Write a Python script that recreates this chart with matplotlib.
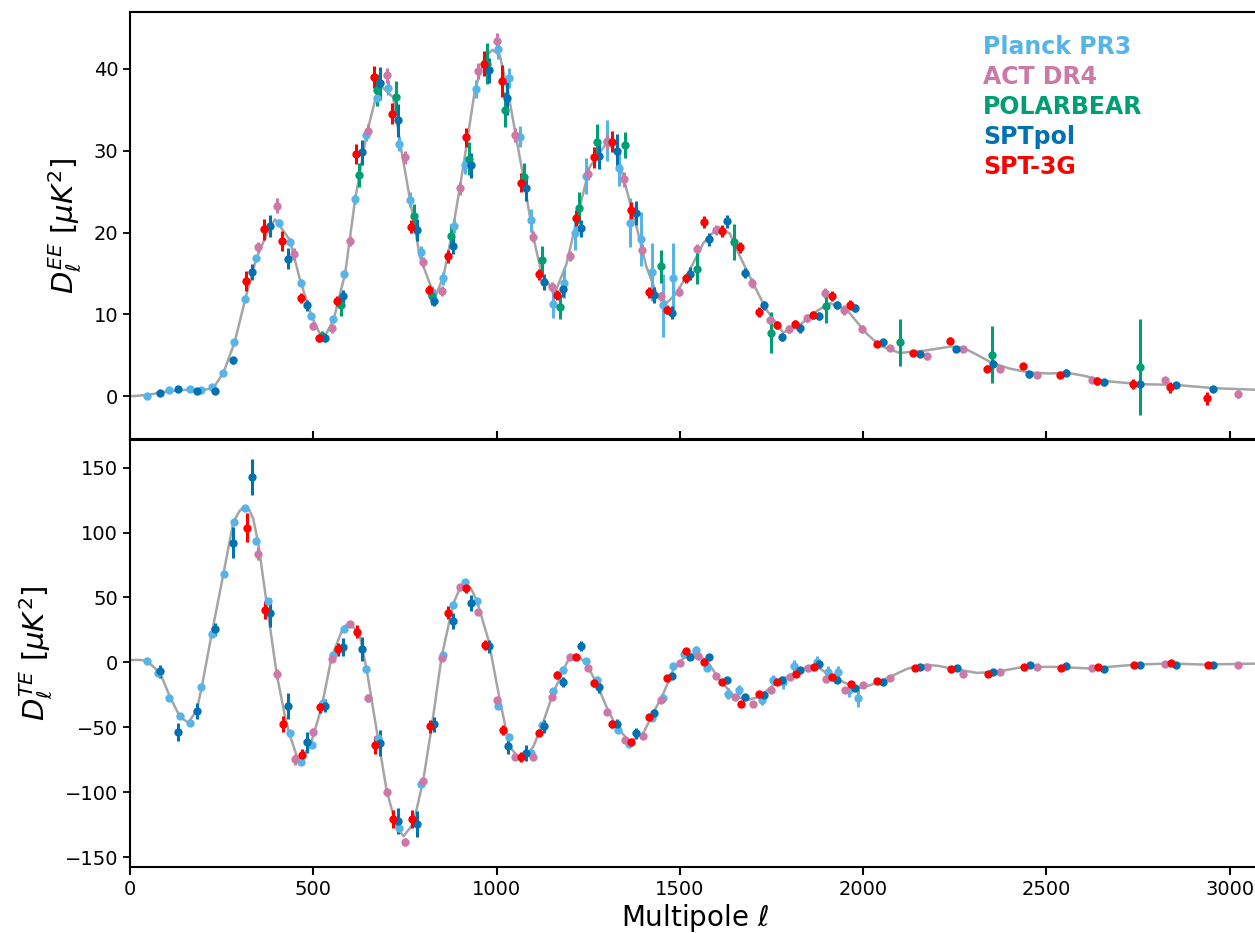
import matplotlib
matplotlib.use("Agg")
import matplotlib.pyplot as plt

# colours of the five experiments
c_planck = "#56B4E9"
c_act = "#CC79A7"
c_pb = "#009E73"
c_sptpol = "#0072B2"
c_spt3g = "#FF0000"
c_theory = "#A5A5A5"

# ---------------- EE ----------------
ee_theory_ell = [0, 50, 100, 150, 200, 227, 255, 286, 314, 345, 382, 396, 436, 464, 496, 526, 555, 587, 614,
                 646, 673, 687, 718, 737, 764, 791, 832, 855, 882, 909, 941, 968, 989, 1009, 1032, 1050, 1073,
                 1100, 1123, 1159, 1191, 1227, 1254, 1300, 1327, 1355, 1382, 1409, 1436, 1464, 1491, 1527,
                 1564, 1605, 1636, 1664, 1700, 1736, 1782, 1827, 1873, 1909, 1955, 2009, 2046, 2100, 2170,
                 2241, 2275, 2310, 2351, 2400, 2455, 2510, 2555, 2605, 2655, 2755, 2855, 2960, 3083]
ee_theory = [0, 0.2, 0.6, 0.8, 0.8, 1.0, 2.9, 6.7, 11.8, 16.9, 20.7, 21.6, 19.1, 14.2, 9.7, 6.9, 9.3, 15.0, 24.0,
             32.1, 36.9, 37.8, 36.5, 30.9, 24.0, 17.0, 12.1, 14.6, 20.7, 28.0, 37.4, 41.4, 42.3, 41.6, 37.0,
             32.5, 26.8, 19.5, 15.0, 12.6, 16.2, 23.1, 28.0, 30.9, 30.0, 25.2, 20.7, 15.8, 12.6, 11.4, 12.6,
             15.4, 18.7, 20.7, 19.9, 17.1, 13.8, 10.6, 7.8, 8.7, 10.4, 11.4, 10.6, 7.7, 6.2, 5.3, 5.6, 6.1,
             5.9, 5.1, 4.1, 3.4, 2.9, 2.8, 2.9, 2.5, 1.9, 1.5, 1.4, 1.0, 0.8]

ee_planck_ell = [45, 105, 164, 195, 223, 255, 285, 314, 345, 406, 436, 466, 494, 553, 585, 615, 644, 675, 703,
                 735, 764, 794, 823, 853, 884, 914, 944, 1003, 1034, 1064, 1093, 1153, 1184, 1214, 1244, 1302,
                 1334, 1364, 1394, 1425, 1453, 1482]
ee_planck = [0.1, 0.8, 0.9, 0.8, 1.1, 2.9, 6.6, 11.9, 16.9, 21.2, 18.9, 13.9, 9.8, 9.4, 14.9, 24.1, 31.9, 36.4,
             37.7, 30.8, 24.0, 17.6, 12.7, 14.4, 20.8, 28.2, 37.5, 42.4, 38.9, 31.7, 21.5, 11.3, 13.8, 19.9,
             26.9, 31.2, 27.9, 21.2, 19.2, 15.2, 11.1, 14.4]
ee_planck_err = [0.15, 0.15, 0.15, 0.15, 0.15, 0.2, 0.25, 0.3, 0.35, 0.4, 0.4, 0.4, 0.4, 0.4, 0.5, 0.6, 0.7, 0.8,
                 0.9, 0.9, 0.9, 0.8, 0.8, 0.8, 0.9, 1.0, 1.1, 1.2, 1.2, 1.3, 1.4, 1.7, 1.8, 2.0, 2.2, 2.5, 2.2,
                 3.0, 3.3, 3.5, 3.9, 4.3]

ee_act_ell = [350, 400, 448, 500, 550, 600, 650, 700, 750, 800, 850, 900, 950, 1000, 1050, 1100, 1150, 1200,
              1250, 1300, 1348, 1398, 1448, 1497, 1547, 1598, 1697, 1747, 1797, 1847, 1897, 1947, 1997, 2074,
              2174, 2274, 2374, 2474, 2624, 2824, 3024]
ee_act = [18.2, 23.3, 17.4, 8.6, 8.3, 19.0, 32.4, 39.2, 29.2, 16.4, 12.9, 25.4, 39.7, 43.4, 31.9, 19.5, 13.4,
          17.1, 27.2, 31.1, 26.5, 17.9, 12.2, 12.8, 18.0, 20.3, 13.8, 9.3, 8.2, 9.6, 12.6, 10.5, 8.2, 5.9, 4.9,
          5.8, 3.4, 2.6, 2.0, 2.0, 0.3]
ee_act_err = [0.6, 0.9, 0.7, 0.5, 0.5, 0.6, 0.8, 0.9, 0.8, 0.6, 0.6, 0.8, 1.0, 1.0, 0.9, 0.7, 0.6, 0.6, 0.8,
              0.9, 0.9, 0.7, 0.6, 0.5, 0.6, 0.6, 0.6, 0.5, 0.5, 0.5, 0.6, 0.6, 0.5, 0.4, 0.4, 0.4, 0.4, 0.4,
              0.4, 0.4, 0.5]

ee_pb_ell = [525, 575, 625, 675, 725, 775, 825, 875, 925, 975, 1024, 1074, 1124, 1174, 1224, 1274, 1350, 1450,
             1548, 1648, 1748, 1898, 2101, 2351, 2756]
ee_pb = [7.4, 11.1, 27.0, 37.4, 36.5, 22.0, 12.2, 19.6, 29.0, 40.6, 35.0, 26.8, 16.7, 10.9, 23.0, 31.1, 30.7,
         15.9, 15.6, 18.9, 7.8, 11.0, 6.6, 5.1, 3.6]
ee_pb_err = [0.6, 1.3, 1.5, 2.0, 2.0, 1.5, 1.0, 1.5, 2.0, 2.5, 2.1, 1.7, 1.6, 1.5, 1.9, 2.1, 1.6, 2.0, 1.9, 2.2,
             2.5, 2.0, 2.9, 3.5, 5.9]

ee_sptpol_ell = [82, 132, 182, 232, 282, 332, 382, 432, 482, 532, 582, 632, 682, 732, 782, 830, 880, 930, 980,
                 1029, 1079, 1130, 1180, 1230, 1280, 1330, 1380, 1430, 1479, 1529, 1579, 1629, 1679, 1729, 1779,
                 1829, 1879, 1929, 1979, 2055, 2155, 2254, 2354, 2454, 2555, 2656, 2756, 2854, 2954]
ee_sptpol = [0.4, 0.9, 0.7, 0.7, 4.4, 15.2, 20.8, 16.8, 11.1, 7.1, 12.2, 29.8, 38.2, 33.7, 20.3, 11.6, 18.4,
             28.2, 39.8, 36.4, 25.4, 14.0, 13.1, 20.5, 29.3, 30.0, 22.4, 12.4, 10.2, 15.0, 19.2, 21.4, 15.1,
             11.1, 7.3, 8.3, 9.8, 11.2, 10.8, 6.6, 5.2, 5.8, 4.0, 2.7, 2.9, 1.7, 1.5, 1.4, 0.9]
ee_sptpol_err = [0.2, 0.2, 0.2, 0.2, 0.4, 1.0, 1.3, 1.3, 0.7, 0.5, 0.8, 1.5, 2.0, 2.0, 1.3, 0.6, 1.0, 1.5, 1.5,
                 2.0, 1.5, 1.0, 1.0, 1.0, 1.5, 2.0, 1.5, 1.0, 0.8, 0.8, 0.8, 0.8, 0.6, 0.6, 0.5, 0.5, 0.5, 0.5,
                 0.5, 0.4, 0.4, 0.4, 0.4, 0.4, 0.4, 0.4, 0.4, 0.4, 0.4]

ee_spt3g_ell = [316, 366, 416, 466, 516, 566, 616, 666, 716, 767, 817, 867, 917, 967, 1016, 1066, 1116, 1166,
                1216, 1266, 1316, 1366, 1416, 1466, 1516, 1566, 1616, 1664, 1716, 1764, 1814, 1864, 1914, 1964,
                2039, 2137, 2237, 2337, 2437, 2537, 2637, 2737, 2837, 2937]
ee_spt3g = [14.1, 20.4, 19.0, 12.0, 7.1, 11.6, 29.6, 39.0, 34.5, 20.7, 13.0, 17.1, 31.6, 40.6, 38.5, 26.1, 14.9,
            12.4, 21.8, 29.2, 31.1, 22.7, 12.7, 10.6, 14.4, 21.3, 20.2, 18.2, 10.3, 8.7, 8.8, 9.9, 12.3, 11.2,
            6.4, 5.3, 6.8, 3.4, 3.7, 2.6, 1.9, 1.5, 1.1, -0.2]
ee_spt3g_err = [1.2, 1.3, 1.2, 0.6, 0.4, 0.6, 1.2, 1.3, 1.3, 0.8, 0.6, 0.8, 1.2, 1.5, 2.0, 1.2, 0.7, 0.6, 1.0,
                1.3, 1.3, 1.0, 0.7, 0.5, 0.5, 0.7, 0.7, 0.7, 0.6, 0.5, 0.5, 0.5, 0.6, 0.6, 0.4, 0.4, 0.4, 0.4,
                0.4, 0.4, 0.5, 0.6, 0.7, 0.8]

# ---------------- TE ----------------
te_theory_ell = [0, 20, 45, 82, 109, 136, 159, 182, 195, 223, 255, 282, 300, 312, 325, 336, 350, 373, 400, 423,
                 436, 459, 491, 523, 550, 582, 596, 612, 627, 646, 673, 700, 727, 746, 773, 800, 823, 850, 882,
                 900, 914, 930, 946, 978, 1009, 1036, 1059, 1077, 1100, 1123, 1154, 1182, 1200, 1218, 1245,
                 1273, 1300, 1327, 1364, 1400, 1427, 1455, 1482, 1509, 1536, 1573, 1609, 1646, 1682, 1718,
                 1755, 1800, 1846, 1868, 1909, 1955, 1982, 2019, 2074, 2119, 2150, 2174, 2205, 2237, 2310, 2365,
                 2437, 2519, 2619, 2746, 2837, 2928, 3083]
te_theory = [1.8, 2.0, 1.5, -8, -26.4, -41.8, -46.4, -36.7, -20, 22.3, 68.4, 108.2, 117, 119.8, 117.5, 110.8,
             91.5, 45.3, -8.7, -41.8, -56, -75.2, -64.9, -34.2, 4.2, 27.2, 29.8, 26.5, 20.8, -6.1, -52.2,
             -98.3, -126.5, -133.7, -124, -90.6, -49.6, 4.2, 45.3, 57, 60.7, 57, 47.9, 17.2, -29, -64.9,
             -72.6, -72.6, -64.9, -49.5, -23.9, -5.9, 4.4, 6.1, -0.8, -16.2, -34.1, -49.5, -61.0, -54.6,
             -39.2, -23.9, -5.9, 3.1, 6.9, 1.8, -13.6, -25.1, -29.0, -26.4, -17.4, -9.7, -3.3, -2.0, -9.7,
             -16.2, -20.0, -17.5, -11.0, -5.0, -2.6, -1.8, -2.6, -4.4, -8.0, -7.2, -3.4, -3.4, -4.6, -1.6, -0.8,
             -1.6, -0.8]

te_planck_ell = [47, 77, 106, 136, 165, 194, 225, 256, 285, 315, 345, 376, 436, 466, 496, 526, 555, 585, 645,
                 676, 735, 793, 853, 882, 914, 946, 1003, 1034, 1095, 1123, 1153, 1182, 1244, 1273, 1332, 1362,
                 1423, 1453, 1482, 1512, 1543, 1573, 1632, 1662, 1723, 1753, 1782, 1812, 1873, 1903, 1932,
                 1962, 1986]
te_planck = [0.9, -7.9, -27.4, -41.3, -46.4, -19.2, 21.8, 68.4, 108.2, 119.2, 93.3, 47.4, -54.6, -76.5, -63.6,
             -31.0, 5.6, 26.0, -5.0, -57.9, -127.2, -93.6, 5.6, 44.0, 61.8, 47.1, -33.6, -57.2, -69.5, -48.2,
             -22, -5.9, 1.0, -13.6, -51.6, -62.9, -43.1, -27, -2.6, 6.4, 9.5, -3.9, -23.9, -21.3, -29, -13.3,
             -15.1, -3.0, 0.3, -7.4, -7.4, -21.3, -27.2]
te_planck_err = [1, 1, 1, 1, 1, 1, 1, 1.5, 1.5, 1.5, 1.5, 1.5, 1.5, 1.5, 1.5, 1.5, 1.5, 1.5, 1.5, 1.5, 2, 2, 2,
                 2, 2, 2, 2, 2, 2, 2, 2, 2, 2, 2, 2, 2, 2, 2, 2.5, 2.5, 3, 3, 4, 4, 4, 4, 5, 5, 5, 5, 5, 5, 7]

te_act_ell = [350, 400, 450, 500, 550, 600, 650, 700, 750, 800, 850, 900, 950, 1000, 1050, 1100, 1150, 1200,
              1250, 1300, 1350, 1400, 1450, 1500, 1550, 1600, 1650, 1700, 1750, 1800, 1850, 1900, 1950, 2000,
              2074, 2174, 2274, 2374, 2474, 2624, 2824, 3024]
te_act = [83.5, -8.7, -74.6, -53.3, 2.6, 29.8, -27.4, -99.6, -138.1, -91.1, 3.3, 58.4, 38.7, -29, -72.6, -72.6,
          -26.4, 4.4, -3.9, -38.0, -59.7, -56.7, -28.5, -0.2, 5.1, -10.5, -26.9, -31.6, -21.3, -11, -3.9,
          -12.4, -20.8, -17.4, -11.6, -3.4, -8.5, -7.7, -3.4, -4.1, -0.8, -2.1]
te_act_err = [5, 4, 4, 3, 2, 2, 3, 3, 3, 2, 2, 2, 2, 2, 2, 2, 2, 2, 1.5, 1.5, 1.5, 1.5, 1.5, 1.5, 1.5, 1.5, 1.5,
              1.5, 1.5, 1.5, 1.5, 1.5, 1.5, 1.5, 1, 1, 1, 1, 1, 1, 1, 1]

te_sptpol_ell = [82, 132, 182, 232, 282, 332, 382, 432, 482, 532, 582, 632, 682, 732, 782, 830, 880, 930, 980,
                 1030, 1080, 1130, 1180, 1230, 1280, 1330, 1380, 1430, 1480, 1529, 1579, 1629, 1679, 1729, 1779,
                 1829, 1879, 1929, 1979, 2055, 2155, 2255, 2355, 2455, 2555, 2656, 2756, 2854, 2954]
te_sptpol = [-6.7, -53.3, -37.2, 25.4, 92.3, 142.8, 38.3, -33.3, -61.5, -33.3, 11.6, 10.3, -61.8, -122.0,
             -124.3, -47.6, 31.8, 45.9, 12.6, -64.1, -69.5, -49.0, -14.9, 12.5, -19.2, -47.4, -54.6, -38.7,
             -10.5, 4.4, 4.4, -13.1, -26.4, -25.1, -13.1, -5.9, -0.8, -13.6, -19.5, -15.4, -3.4, -4.6, -7.2,
             -1.6, -2.9, -4.9, -1.6, -1.8, -2.1]
te_sptpol_err = [5, 7, 6, 5, 12, 14, 11, 10, 8, 5, 7, 9, 10, 10, 10, 6, 6, 6, 5, 6, 6, 5, 4, 4, 4, 4, 4, 3, 2,
                 2, 2, 2, 2, 2, 1.5, 1.5, 2, 2, 1.5, 1, 1, 1, 1, 1, 1, 1, 1, 1, 1]

te_spt3g_ell = [318, 368, 418, 468, 518, 568, 618, 668, 718, 768, 818, 868, 918, 968, 1017, 1066, 1116, 1166,
                1216, 1266, 1316, 1366, 1416, 1466, 1516, 1566, 1616, 1666, 1716, 1766, 1816, 1866, 1916, 1966,
                2039, 2142, 2240, 2340, 2440, 2540, 2640, 2740, 2840, 2940]
te_spt3g = [103.7, 40.2, -47.4, -71.3, -34.6, 10.0, 23.6, -63.6, -120.7, -120.7, -49.0, 38.2, 57.1, 13.4, -52.1,
            -72.6, -53.9, -9.8, 4.4, -15.7, -47.4, -61.5, -41.8, -11.8, 9.0, 0, -14.9, -32.3, -24.6, -15.4,
            -9.2, -3.3, -11, -16.2, -14.1, -4.6, -5.4, -9.0, -3.4, -3.9, -3.4, -2.1, -0.3, -2.1]
te_spt3g_err = [11, 7, 6, 5, 4, 5, 5, 7, 7, 7, 5, 5, 4, 4, 4, 4, 3, 3, 2, 3, 3, 2, 2, 2, 2, 2, 2, 2, 2, 2, 2, 2,
                2, 2, 1.5, 1.5, 1.5, 1.5, 1.5, 1.5, 1.5, 1.5, 1.5, 1.5]

names = ["Planck PR3", "ACT DR4", "POLARBEAR", "SPTpol", "SPT-3G"]
colors = [c_planck, c_act, c_pb, c_sptpol, c_spt3g]

fig = plt.figure(figsize=(12.55, 9.33), dpi=100)
# right edge of the axes runs past the figure, as in the original crop
ax1 = fig.add_axes([0.1036, 0.529, 0.9004, 0.458])
ax2 = fig.add_axes([0.1036, 0.0707, 0.9004, 0.458], sharex=ax1)

kw = dict(fmt="o", ms=6, elinewidth=2.2, capsize=0, mew=0)

ax1.plot(ee_theory_ell, ee_theory, color=c_theory, lw=1.8, zorder=1)
ax1.errorbar(ee_planck_ell, ee_planck, yerr=ee_planck_err, color=c_planck, **kw)
ax1.errorbar(ee_act_ell, ee_act, yerr=ee_act_err, color=c_act, **kw)
ax1.errorbar(ee_pb_ell, ee_pb, yerr=ee_pb_err, color=c_pb, **kw)
ax1.errorbar(ee_sptpol_ell, ee_sptpol, yerr=ee_sptpol_err, color=c_sptpol, **kw)
ax1.errorbar(ee_spt3g_ell, ee_spt3g, yerr=ee_spt3g_err, color=c_spt3g, **kw)

ax2.plot(te_theory_ell, te_theory, color=c_theory, lw=1.8, zorder=1)
ax2.errorbar(te_planck_ell, te_planck, yerr=te_planck_err, color=c_planck, **kw)
ax2.errorbar(te_act_ell, te_act, yerr=te_act_err, color=c_act, **kw)
ax2.errorbar(te_sptpol_ell, te_sptpol, yerr=te_sptpol_err, color=c_sptpol, **kw)
ax2.errorbar(te_spt3g_ell, te_spt3g, yerr=te_spt3g_err, color=c_spt3g, **kw)

ax1.set_xlim(0, 3083)
ax1.set_ylim(-5.25, 46.9)
ax2.set_ylim(-157.4, 171.4)
ax1.set_yticks([0, 10, 20, 30, 40])
ax2.set_yticks([-150, -100, -50, 0, 50, 100, 150])
ax2.set_xticks([0, 500, 1000, 1500, 2000, 2500, 3000])

for ax in (ax1, ax2):
    for s in ax.spines.values():
        s.set_linewidth(1.5)
    ax.tick_params(axis="y", direction="out", length=5, width=1.3, labelsize=14)
ax1.tick_params(axis="x", direction="in", length=6, width=1.5, labelbottom=False)
ax2.tick_params(axis="x", direction="out", length=6, width=1.5, labelsize=14)

ax1.set_ylabel(r"$D_{\ell}^{EE}\ [\mu K^2]$", fontsize=21, labelpad=7)
ax2.set_ylabel(r"$D_{\ell}^{TE}\ [\mu K^2]$", fontsize=21, labelpad=7)
ax2.set_xlabel(r"Multipole $\ell$", fontsize=20, labelpad=2)

for i in range(len(names)):
    ax1.text(0.755, 0.918 - 0.07 * i, names[i], color=colors[i], fontsize=17, fontweight="bold",
             transform=ax1.transAxes, va="center", ha="left")

fig.savefig("out.png", dpi=100)
